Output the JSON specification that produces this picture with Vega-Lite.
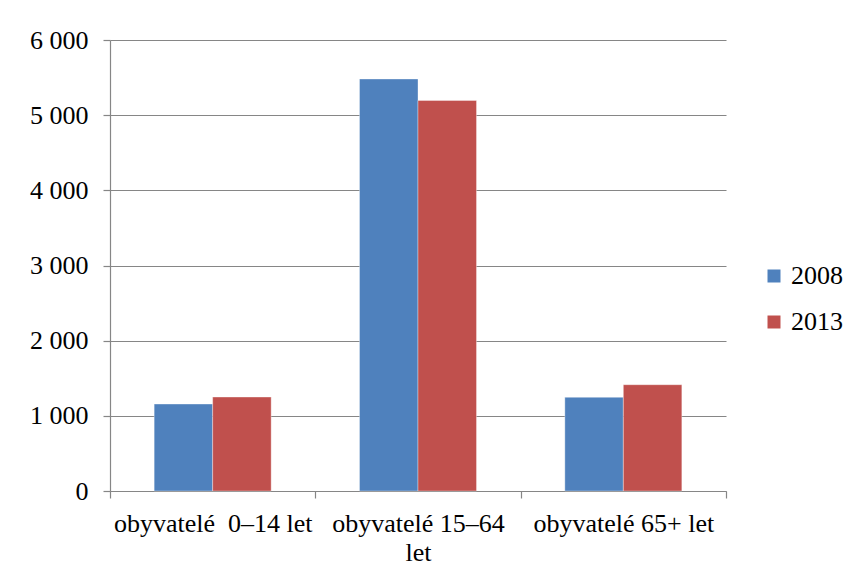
{
  "$schema": "https://vega.github.io/schema/vega-lite/v6.json",
  "width": 616,
  "height": 451,
  "autosize": "none",
  "padding": {"left": 110, "top": 40, "right": 132, "bottom": 86},
  "background": "white",
  "data": {
    "values": [
      {"skupina": "obyvatelé \u00a00–14 let", "rok": "2008", "pocet": 1157},
      {"skupina": "obyvatelé \u00a00–14 let", "rok": "2013", "pocet": 1250},
      {"skupina": "obyvatelé 15–64 let", "rok": "2008", "pocet": 5481},
      {"skupina": "obyvatelé 15–64 let", "rok": "2013", "pocet": 5195},
      {"skupina": "obyvatelé 65+ let", "rok": "2008", "pocet": 1246},
      {"skupina": "obyvatelé 65+ let", "rok": "2013", "pocet": 1414}
    ]
  },
  "mark": {"type": "bar", "stroke": "#ffffff", "strokeOpacity": 0.5, "strokeWidth": 0.7},
  "encoding": {
    "x": {
      "field": "skupina",
      "type": "nominal",
      "sort": null,
      "scale": {"paddingInner": 0, "paddingOuter": 0},
      "axis": {
        "title": null,
        "labelAngle": 0,
        "tickBand": "extent",
        "domainColor": "#868686",
        "tickColor": "#868686",
        "tickSize": 7,
        "labelPadding": 12,
        "labelFont": "Liberation Serif",
        "labelFontSize": 26,
        "labelColor": "#000000",
        "labelLineHeight": 29,
        "labelLimit": 0,
        "labelExpr": "datum.label == 'obyvatelé 15–64 let' ? ['obyvatelé 15–64', 'let'] : datum.label"
      }
    },
    "xOffset": {
      "field": "rok",
      "type": "nominal",
      "scale": {"paddingInner": 0, "paddingOuter": 0.755}
    },
    "y": {
      "field": "pocet",
      "type": "quantitative",
      "scale": {"domain": [0, 6000], "nice": false},
      "axis": {
        "title": null,
        "values": [0, 1000, 2000, 3000, 4000, 5000, 6000],
        "labelExpr": "replace(format(datum.value, ','), ',', ' ')",
        "grid": true,
        "gridColor": "#868686",
        "gridWidth": 1.2,
        "domainColor": "#868686",
        "domainWidth": 1.2,
        "tickColor": "#868686",
        "tickWidth": 1.2,
        "tickSize": 7,
        "labelPadding": 15,
        "labelFont": "Liberation Serif",
        "labelFontSize": 26,
        "labelColor": "#000000"
      }
    },
    "color": {
      "field": "rok",
      "type": "nominal",
      "scale": {"domain": ["2008", "2013"], "range": ["#4F81BD", "#C0504D"]},
      "legend": {
        "title": null,
        "orient": "none",
        "legendX": 651,
        "legendY": 223,
        "symbolType": "square",
        "symbolSize": 169,
        "symbolStrokeWidth": 0,
        "labelFont": "Liberation Serif",
        "labelFontSize": 26,
        "labelColor": "#000000",
        "labelOffset": 4,
        "rowPadding": 20
      }
    }
  },
  "config": {
    "view": {"stroke": null},
    "font": "Liberation Serif",
    "axis": {"gridOpacity": 1, "domainWidth": 1.2, "tickWidth": 1.2}
  }
}
